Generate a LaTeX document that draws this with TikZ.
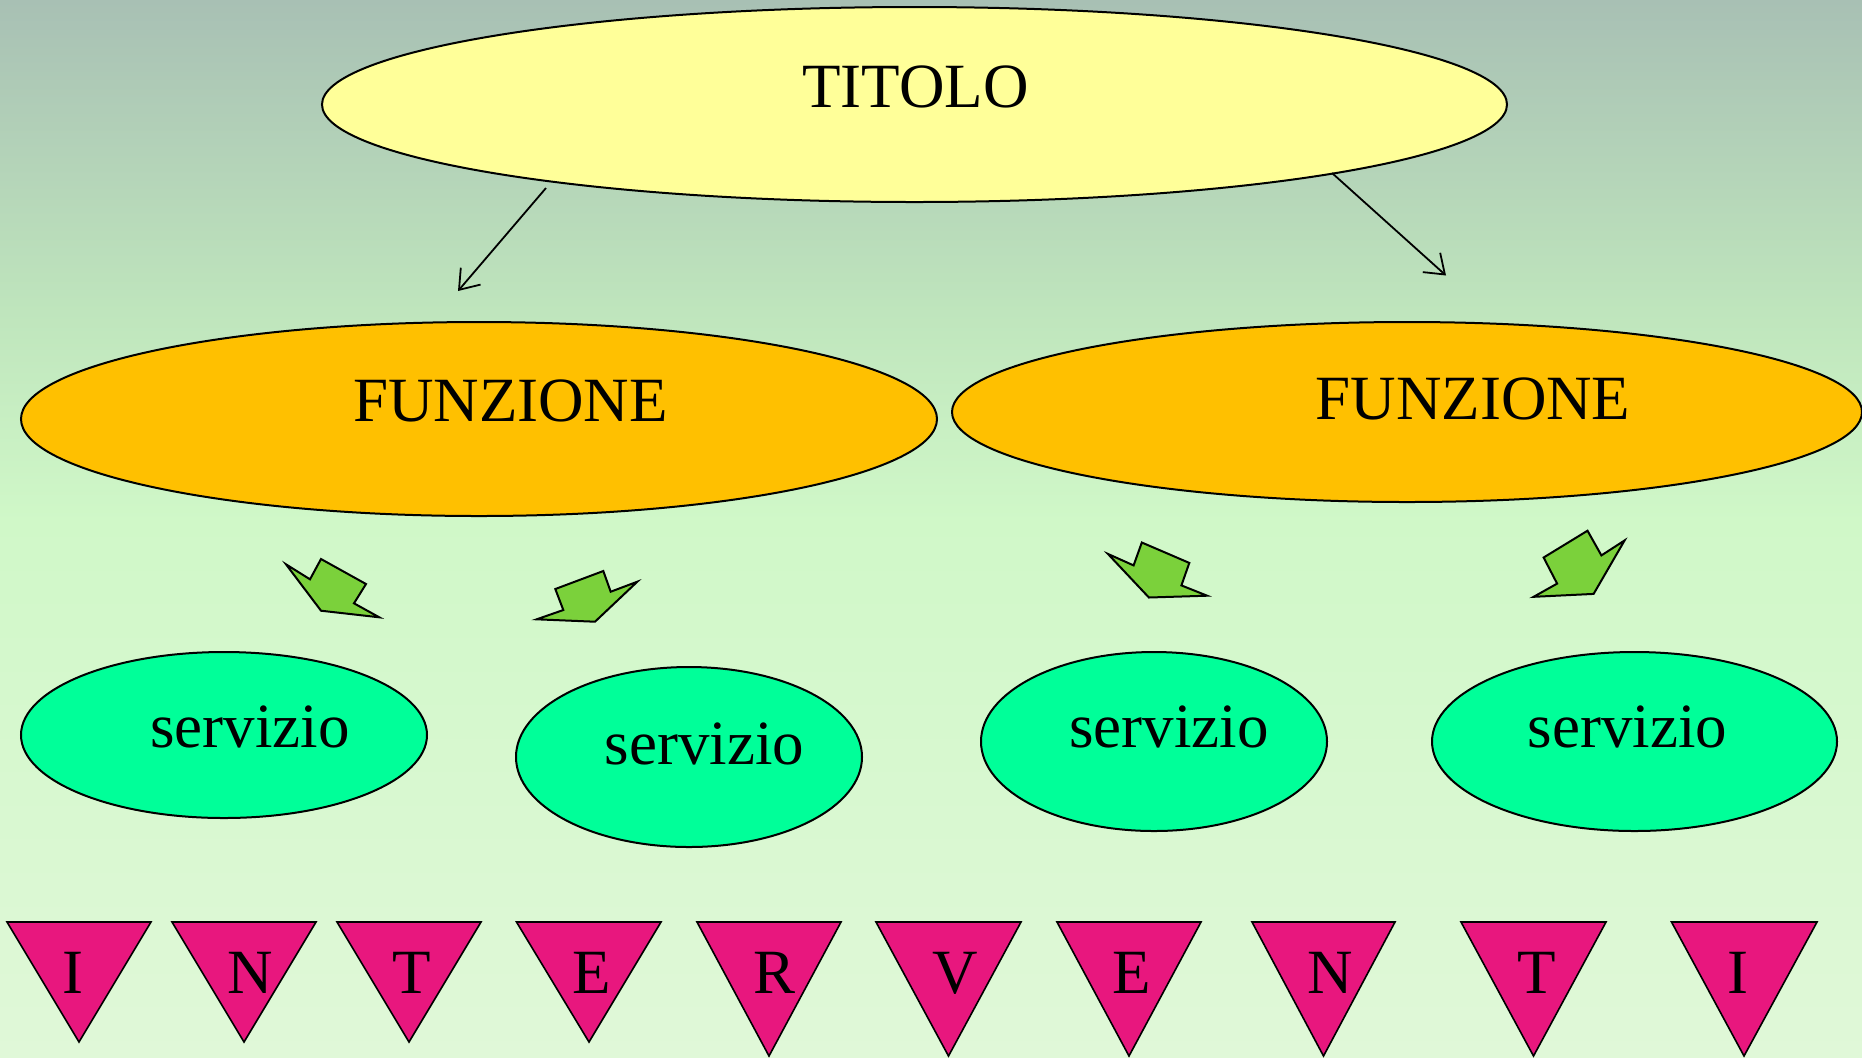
\documentclass[tikz,border=0pt]{standalone}
\usepackage{fontspec}
\setmainfont{Liberation Serif}
\usetikzlibrary{shapes.geometric,arrows.meta,calc}

\definecolor{bgA}{HTML}{A8C0B4}
\definecolor{bgB}{HTML}{BEE4BC}
\definecolor{bgC}{HTML}{D0F8C8}
\definecolor{bgD}{HTML}{E0F8D8}
\definecolor{titlefill}{HTML}{FFFF99}
\definecolor{funcfill}{HTML}{FFC000}
\definecolor{servfill}{HTML}{00FF99}
\definecolor{flagfill}{HTML}{E8177E}
\definecolor{leaffill}{HTML}{7BD13B}

\begin{document}
\begin{tikzpicture}[x=0.5pt,y=-0.5pt,
  oval/.style={ellipse, draw=black, line width=1pt, inner sep=0pt},
  lbl/.style={anchor=base, inner sep=0pt, font=\fontsize{31.5}{36}\selectfont},
  link/.style={-{Straight Barb[length=9pt,width=13pt]}, line width=0.9pt},
  flag/.style={fill=flagfill, draw=black, line width=0.8pt},
  leaf/.style={fill=leaffill, draw=black, line width=1pt}]

% background gradient
\useasboundingbox (0,0) rectangle (1862,1057);
\shade[top color=bgA, bottom color=bgB] (0,0) rectangle (1862,302);
\shade[top color=bgB, bottom color=bgC] (0,300) rectangle (1862,522);
\shade[top color=bgC, bottom color=bgD] (0,520) rectangle (1862,1057);

% title
\node[oval, fill=titlefill, minimum width=592.5pt, minimum height=97.5pt] (titolo) at (914.5,104.5) {};
\node[lbl] (titoloText) at (915.5,107) {TITOLO};

% functions
\node[oval, fill=funcfill, minimum width=458pt, minimum height=97pt] (funzL) at (479,419) {};
\node[lbl] (funzLText) at (510.5,421.7) {FUNZIONE};
\node[oval, fill=funcfill, minimum width=455pt, minimum height=90pt] (funzR) at (1407,412) {};
\node[lbl] (funzRText) at (1473,419) {FUNZIONE};

% services
\node[oval, fill=servfill, minimum width=203pt, minimum height=83pt] (serv1) at (224,735) {};
\node[lbl] (serv1Text) at (250,747.3) {servizio};
\node[oval, fill=servfill, minimum width=173pt, minimum height=90pt] (serv2) at (689,757) {};
\node[lbl] (serv2Text) at (704.5,764) {servizio};
\node[oval, fill=servfill, minimum width=173pt, minimum height=89.5pt] (serv3) at (1154,741.5) {};
\node[lbl] (serv3Text) at (1169,747.5) {servizio};
\node[oval, fill=servfill, minimum width=202.5pt, minimum height=89.5pt] (serv4) at (1634.5,741.5) {};
\node[lbl] (serv4Text) at (1627.5,747.5) {servizio};

% title to functions
\draw[link] ($(titolo.center)+(-368.5,83.5)$) -- ($(funzL.center)+(-21,-128)$);
\draw[link] ($(titolo.center)+(417.5,68.5)$) -- ($(funzR.center)+(39,-136.5)$);

% block arrows from functions to services
\filldraw[leaf] (286,564.3) -- (310,579.3) -- (321,559) -- (366,584) -- (354,603.3) -- (379.3,617.3) -- (321,610.7) -- cycle;
\filldraw[leaf] (536.7,619.3) -- (563.3,610) -- (555.3,589) -- (603.3,571) -- (610.7,591.7) -- (637.3,581.7) -- (595,621.7) -- cycle;
\filldraw[leaf] (1107.9,553.9) -- (1133.6,565.4) -- (1141.8,542.5) -- (1189.3,562.9) -- (1181.4,585.4) -- (1207.1,595.7) -- (1148.9,597.5) -- cycle;
\filldraw[leaf] (1533.6,596.8) -- (1557.1,583.6) -- (1543.6,557.5) -- (1587.5,530.7) -- (1601.4,555.4) -- (1624.6,540.4) -- (1593.6,593.9) -- cycle;

% pennant row
\filldraw[flag] (7,922) -- (151,922) -- (79,1042) -- cycle;
\filldraw[flag] (172,922) -- (316,922) -- (244,1042) -- cycle;
\filldraw[flag] (337,922) -- (481,922) -- (409,1042) -- cycle;
\filldraw[flag] (516.5,922) -- (661,922) -- (589,1042) -- cycle;
\filldraw[flag] (697,922) -- (841,922) -- (769,1056) -- cycle;
\filldraw[flag] (876,922) -- (1021,922) -- (948.5,1056) -- cycle;
\filldraw[flag] (1057,922) -- (1201,922) -- (1129,1056) -- cycle;
\filldraw[flag] (1252,922) -- (1395,922) -- (1323.5,1056) -- cycle;
\filldraw[flag] (1461,922) -- (1606,922) -- (1533.5,1056) -- cycle;
\filldraw[flag] (1671.5,922) -- (1817,922) -- (1744,1056) -- cycle;

\node[lbl] (l1) at (72.5,993) {I};
\node[lbl] (l2) at (250,993) {N};
\node[lbl] (l3) at (412,993) {T};
\node[lbl] (l4) at (591.5,993) {E};
\node[lbl] (l5) at (774,993) {R};
\node[lbl] (l6) at (955.5,993) {V};
\node[lbl] (l7) at (1131.5,993) {E};
\node[lbl] (l8) at (1330.5,993) {N};
\node[lbl] (l9) at (1537,993) {T};
\node[lbl] (l10) at (1738,993) {I};
\end{tikzpicture}
\end{document}
